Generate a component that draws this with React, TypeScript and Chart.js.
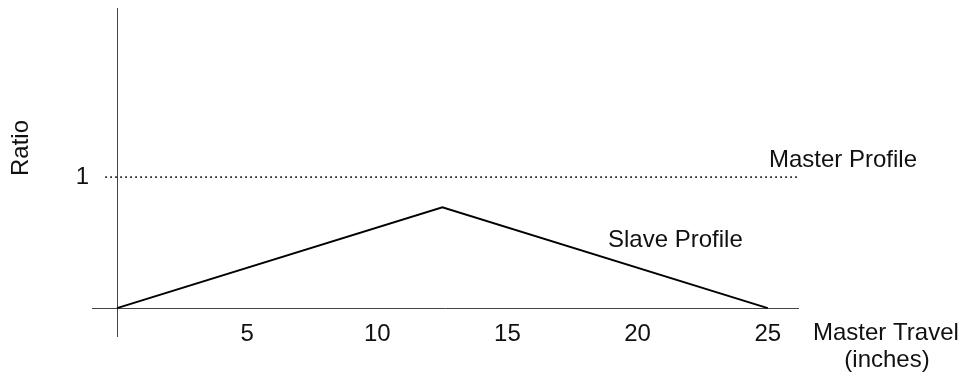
import React, { useEffect, useRef } from "react";
import { Chart, registerables } from "chart.js";

Chart.register(...registerables);

// ---- data ----
const slaveX = [0, 12.5, 25];
const slaveY = [0, 0.77, 0];
const masterX = [-0.45, 26.15];
const masterY = [1, 1];
const xTickValues = [5, 10, 15, 20, 25];
const xTickLabels = ["5", "10", "15", "20", "25"];
const yTickValues = [1];
const yTickLabels = ["1"];
const xRange = [-0.96, 26.2];
const yRange = [-0.22, 2.29];

const FONT = "24px 'Liberation Sans', Arial, sans-serif";

const diagramPlugin = {
  id: "diagram",
  beforeDatasetsDraw(chart: any) {
    const { ctx, chartArea, scales } = chart;
    const x = scales.x;
    const y = scales.y;
    ctx.save();
    ctx.strokeStyle = "#444";
    ctx.lineWidth = 1;
    const px0 = Math.round(x.getPixelForValue(0)) + 0.5;
    const py0 = Math.round(y.getPixelForValue(0)) + 0.5;
    ctx.beginPath();
    ctx.moveTo(chartArea.left, py0);
    ctx.lineTo(chartArea.right, py0);
    ctx.moveTo(px0, chartArea.top);
    ctx.lineTo(px0, chartArea.bottom);
    ctx.stroke();
    ctx.restore();
  },
  afterDraw(chart: any) {
    const { ctx, chartArea, scales } = chart;
    const x = scales.x;
    const y = scales.y;
    ctx.save();
    ctx.fillStyle = "#111";
    ctx.font = FONT;
    ctx.textBaseline = "middle";
    const py0 = y.getPixelForValue(0);
    // x tick labels
    ctx.textAlign = "center";
    xTickValues.forEach((v, i) => {
      ctx.fillText(xTickLabels[i], x.getPixelForValue(v), py0 + 26);
    });
    // y tick labels
    ctx.textAlign = "right";
    yTickValues.forEach((v, i) => {
      ctx.fillText(yTickLabels[i], chartArea.left - 3, y.getPixelForValue(v));
    });
    // x axis title
    ctx.textAlign = "left";
    ctx.fillText("Master Travel", chartArea.right + 14, py0 + 25);
    ctx.textAlign = "center";
    ctx.fillText("(inches)", chartArea.right + 88, py0 + 52);
    // y axis title
    ctx.save();
    ctx.translate(21, 148);
    ctx.rotate(-Math.PI / 2);
    ctx.textAlign = "center";
    ctx.fillText("Ratio", 0, 0);
    ctx.restore();
    // series labels
    ctx.textAlign = "left";
    ctx.fillText("Master Profile", 769, y.getPixelForValue(1) - 17);
    ctx.fillText("Slave Profile", 608, 240);
    ctx.restore();
  },
};

export default function App() {
  const canvasRef = useRef<HTMLCanvasElement>(null);

  useEffect(() => {
    const canvas = canvasRef.current;
    if (!canvas) return;
    const chart = new Chart(canvas, {
      type: "scatter",
      data: {
        datasets: [
          {
            label: "Master Profile",
            data: masterX.map((v, i) => ({ x: v, y: masterY[i] })),
            showLine: true,
            borderColor: "#111",
            borderWidth: 1.6,
            borderDash: [1.6, 3.4],
            pointRadius: 0,
          },
          {
            label: "Slave Profile",
            data: slaveX.map((v, i) => ({ x: v, y: slaveY[i] })),
            showLine: true,
            borderColor: "#000",
            borderWidth: 2,
            pointRadius: 0,
          },
        ],
      },
      options: {
        animation: false,
        responsive: true,
        maintainAspectRatio: false,
        layout: { padding: { left: 92, right: 164, top: 8, bottom: 42 } },
        plugins: { legend: { display: false }, tooltip: { enabled: false } },
        scales: {
          x: { type: "linear", min: xRange[0], max: xRange[1], display: false },
          y: { type: "linear", min: yRange[0], max: yRange[1], display: false },
        },
      },
      plugins: [diagramPlugin],
    });
    return () => chart.destroy();
  }, []);

  return (
    <div style={{ position: "fixed", left: 0, top: 0, width: 963, height: 379, background: "#fff" }}>
      <canvas ref={canvasRef} />
    </div>
  );
}
